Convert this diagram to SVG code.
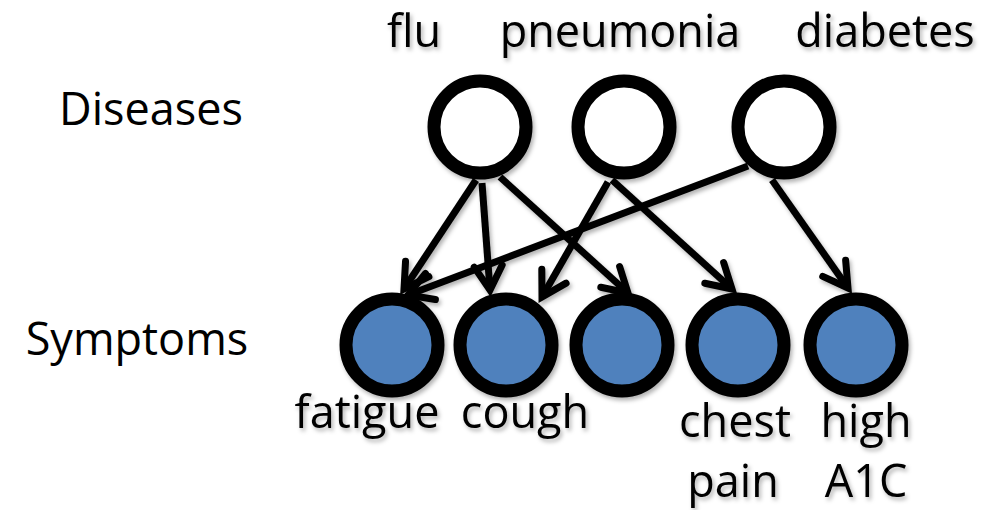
<svg xmlns="http://www.w3.org/2000/svg" width="1008" height="510" viewBox="0 0 1008 510">
  <style>
    .lbl { font-family: "Open Sans", "Liberation Sans", sans-serif; font-size: 45px; fill: #000; text-anchor: middle; }
    .disease { fill: #fff; stroke: #000; stroke-width: 13; }
    .symptom { fill: #4F81BD; stroke: #000; stroke-width: 13; }
    .edge { stroke: #000; stroke-width: 7; fill: none; marker-end: url(#arrow); }
  </style>
  <defs>
    <filter id="shadow" x="-20%" y="-20%" width="140%" height="140%">
      <feDropShadow dx="2" dy="3" stdDeviation="2" flood-color="#000" flood-opacity="0.3"/>
    </filter>
    <marker id="arrow" markerUnits="userSpaceOnUse" orient="auto" refX="0" refY="0" markerWidth="44" markerHeight="44" viewBox="-32 -22 44 44" overflow="visible">
      <path d="M-24,-14 L0,0 L-24,14" fill="none" stroke="#000" stroke-width="7" stroke-linecap="round" stroke-linejoin="miter"/>
    </marker>
  </defs>
  <rect width="1008" height="510" fill="#fff"/>

  <text class="lbl" x="151" y="125">Diseases</text>
  <text class="lbl" x="137" y="355">Symptoms</text>

  <g id="connectors" filter="url(#shadow)">
    <line class="edge" x1="476" y1="180" x2="404" y2="289"/>
    <line class="edge" x1="482" y1="183" x2="490" y2="290"/>
    <line class="edge" x1="500" y1="177" x2="628" y2="293"/>
    <line class="edge" x1="608" y1="182" x2="542" y2="297"/>
    <line class="edge" x1="612" y1="180" x2="732" y2="289"/>
    <line class="edge" x1="772" y1="180" x2="848" y2="288"/>
    <line class="edge" x1="748" y1="166" x2="408" y2="295"/>
  </g>

  <g id="flu" filter="url(#shadow)">
    <circle class="disease" cx="480" cy="127" r="46"/>
    <text class="lbl" x="414" y="47">flu</text>
  </g>
  <g id="pneumonia" filter="url(#shadow)">
    <circle class="disease" cx="624" cy="127" r="46"/>
    <text class="lbl" x="620" y="47">pneumonia</text>
  </g>
  <g id="diabetes" filter="url(#shadow)">
    <circle class="disease" cx="784" cy="127" r="46"/>
    <text class="lbl" x="885" y="47">diabetes</text>
  </g>

  <g id="fatigue" filter="url(#shadow)">
    <circle class="symptom" cx="392" cy="345" r="46"/>
    <text class="lbl" x="367" y="428">fatigue</text>
  </g>
  <g id="cough" filter="url(#shadow)">
    <circle class="symptom" cx="506" cy="345" r="46"/>
    <text class="lbl" x="525" y="428">cough</text>
  </g>
  <g id="symptom3" filter="url(#shadow)">
    <circle class="symptom" cx="622" cy="345" r="46"/>
  </g>
  <g id="chest-pain" filter="url(#shadow)">
    <circle class="symptom" cx="738" cy="345" r="46"/>
    <text class="lbl" x="735" y="437">chest</text>
    <text class="lbl" x="733" y="497">pain</text>
  </g>
  <g id="high-a1c" filter="url(#shadow)">
    <circle class="symptom" cx="856" cy="345" r="46"/>
    <text class="lbl" x="866" y="437">high</text>
    <text class="lbl" x="866" y="497">A1C</text>
  </g>
</svg>
